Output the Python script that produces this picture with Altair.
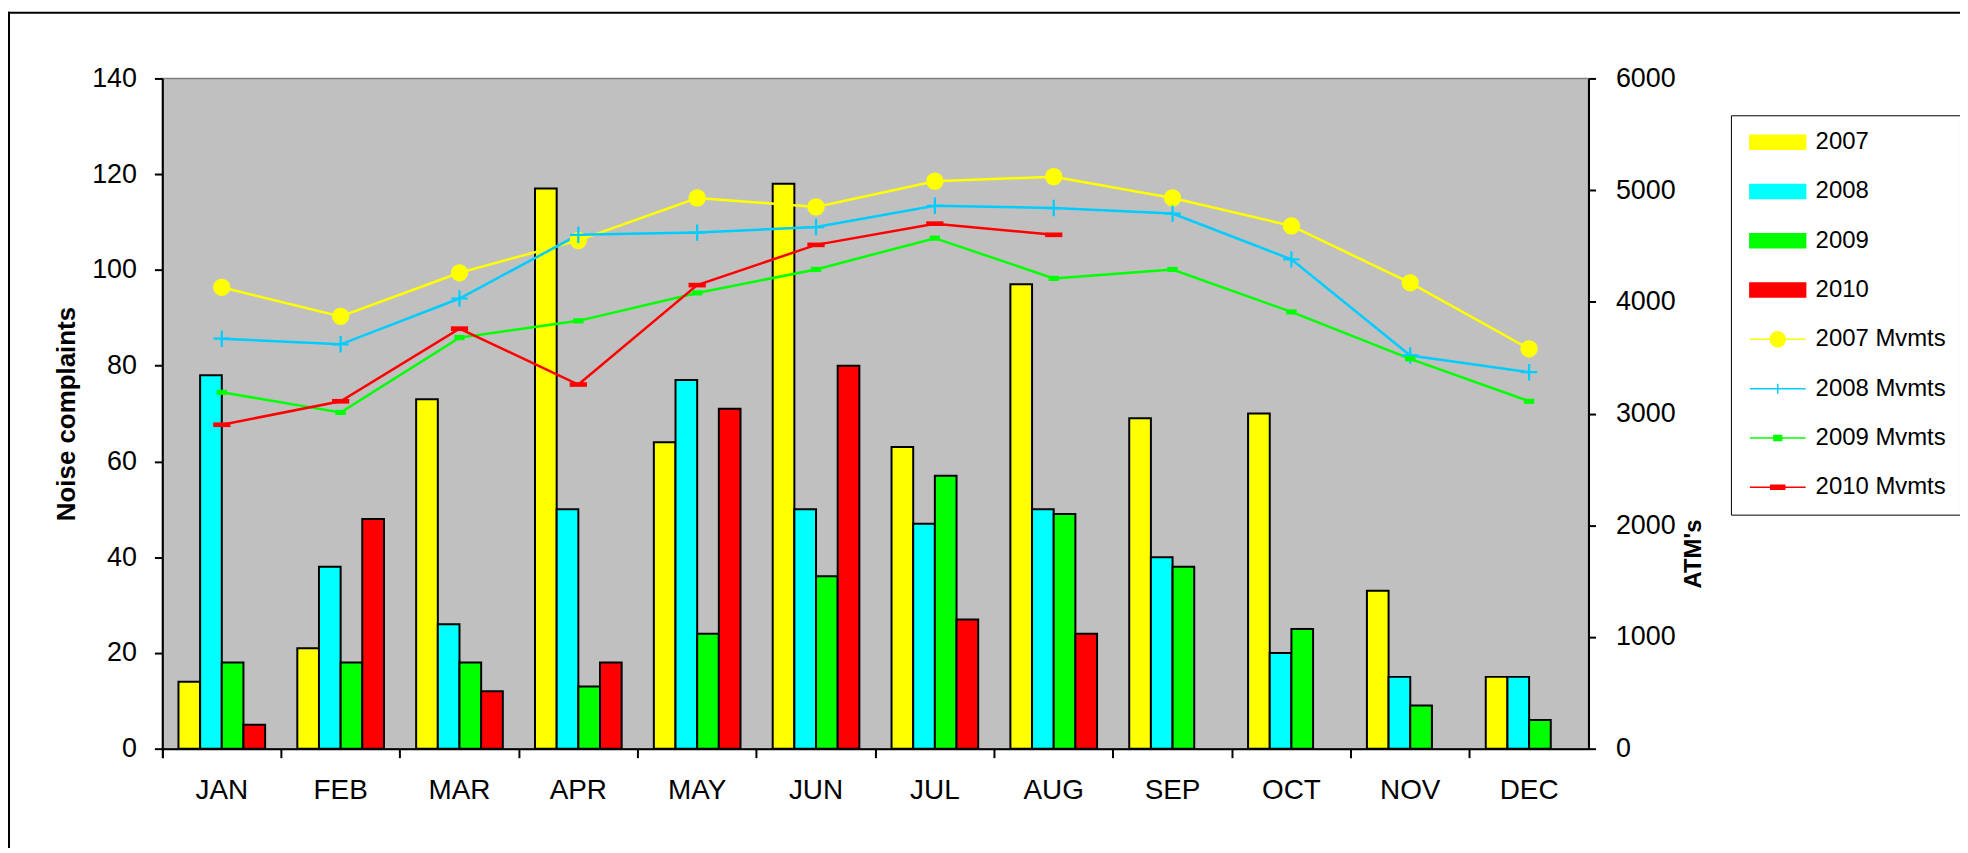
import altair as alt
import pandas as pd

FONT = "Liberation Sans"

months = ["JAN", "FEB", "MAR", "APR", "MAY", "JUN", "JUL", "AUG", "SEP", "OCT", "NOV", "DEC"]

bar_series = ["2007", "2008", "2009", "2010"]
complaints_2007 = [14, 21, 73, 117, 64, 118, 63, 97, 69, 70, 33, 15]
complaints_2008 = [78, 38, 26, 50, 77, 50, 47, 50, 40, 20, 15, 15]
complaints_2009 = [18, 18, 18, 13, 24, 36, 57, 49, 38, 25, 9, 6]
complaints_2010 = [5, 48, 12, 18, 71, 80, 27, 24]

line_series = ["2007 Mvmts", "2008 Mvmts", "2009 Mvmts", "2010 Mvmts"]
mvmts_2007 = [4130, 3870, 4260, 4550, 4930, 4850, 5080, 5120, 4930, 4680, 4170, 3580]
mvmts_2008 = [3670, 3620, 4030, 4600, 4620, 4670, 4860, 4840, 4790, 4380, 3520, 3370]
mvmts_2009 = [3190, 3010, 3680, 3830, 4080, 4290, 4570, 4210, 4290, 3910, 3490, 3110]
mvmts_2010 = [2900, 3110, 3760, 3260, 4150, 4510, 4700, 4600]

bar_colors = ["#FFFF00", "#00FFFF", "#00FF00", "#FF0000"]
line_colors = ["#FFFF00", "#00CCFF", "#00FF00", "#FF0000"]

# marker shapes (unit box -1..1)
marker_paths = [
    "M-1,0A1,1 0 1,0 1,0A1,1 0 1,0 -1,0Z",
    "M-0.95,-0.13H0.95V0.13H-0.95ZM-0.13,-0.95H0.13V0.95H-0.13Z",
    "M-0.6,-0.3H0.6V0.3H-0.6Z",
    "M-1,-0.27H1V0.27H-1Z",
]
# legend symbol shapes
legend_paths = [
    "M-1,-0.25H1V0.25H-1Z",
    "M-1,-0.25H1V0.25H-1Z",
    "M-1,-0.25H1V0.25H-1Z",
    "M-1,-0.25H1V0.25H-1Z",
    "M-1,0H1M-0.27,0A0.27,0.27 0 1,0 0.27,0A0.27,0.27 0 1,0 -0.27,0Z",
    "M-1,0H1M0,-0.18V0.18",
    "M-1,0H1M-0.14,-0.09H0.14V0.09H-0.14Z",
    "M-1,0H1M-0.25,-0.07H0.25V0.07H-0.25Z",
]

all_series = bar_series + line_series
all_colors = bar_colors + line_colors

bar_rows = []
for s, vals in zip(bar_series, [complaints_2007, complaints_2008, complaints_2009, complaints_2010]):
    for i, (m, v) in enumerate(zip(months, vals)):
        bar_rows.append({"month": m, "series": s, "value": v, "idx": i})
bars_df = pd.DataFrame(bar_rows)

line_rows = []
for s, vals in zip(line_series, [mvmts_2007, mvmts_2008, mvmts_2009, mvmts_2010]):
    for i, (m, v) in enumerate(zip(months, vals)):
        line_rows.append({"month": m, "series": s, "value": v, "idx": i})
lines_df = pd.DataFrame(line_rows)

color_scale = alt.Scale(domain=all_series, range=all_colors)

shape_expr = "".join(
    f"datum.value === '{s}' ? '{p}' : " for s, p in zip(all_series, legend_paths)
) + "'square'"
line_list = "[" + ",".join(f"'{s}'" for s in line_series) + "]"
stroke_expr = f"indexof({line_list}, datum.value) >= 0 ? scale('color', datum.value) : 'black'"

legend = alt.Legend(
    title=None,
    orient="none",
    legendX=1575,
    legendY=37,
    symbolSize=3136,
    symbolType=alt.ExprRef(shape_expr),
    symbolStrokeColor=alt.ExprRef(stroke_expr),
    symbolOffset=4,
    labelOffset=9,
    labelFont=FONT,
    labelFontSize=24,
    labelColor="black",
    labelLimit=400,
    clipHeight=26,
    rowPadding=23.5,
    padding=14,
    strokeColor="black",
    fillColor="white",
)

x_axis = alt.Axis(
    title=None, labelAngle=0, labelFontSize=28, labelPadding=19, tickSize=9,
    tickWidth=2, domainWidth=2, bandPosition=0, tickExtra=True,
    labelFont=FONT, labelColor="black", tickColor="black", domainColor="black",
)
x_enc = alt.X("month:N", scale=alt.Scale(domain=months, paddingInner=0, paddingOuter=0), axis=x_axis)

left_axis = alt.Axis(
    title="Noise complaints", orient="left", values=list(range(0, 141, 20)),
    labelFontSize=27, labelPadding=18, tickSize=8, tickWidth=2, domainWidth=2,
    grid=False, titleFontSize=26, titleFontWeight="bold", titleAngle=270,
    titleX=-96, titleBaseline="middle", labelFont=FONT, titleFont=FONT,
    labelColor="black", titleColor="black", tickColor="black", domainColor="black",
)
right_axis = alt.Axis(
    title="ATM's", orient="right", values=list(range(0, 6001, 1000)), format="d",
    labelFontSize=27, labelPadding=20, tickSize=7, tickWidth=2, domainWidth=2,
    grid=False, titleFontSize=24, titleFontWeight="bold", titleAngle=270,
    titleX=105, titleY=477, titleBaseline="middle", labelFont=FONT, titleFont=FONT,
    labelColor="black", titleColor="black", tickColor="black", domainColor="black",
)

bars = alt.Chart(bars_df).mark_bar(stroke="black", strokeWidth=2).encode(
    x=x_enc,
    xOffset=alt.XOffset("series:N", scale=alt.Scale(domain=bar_series, paddingInner=0, paddingOuter=0.743)),
    y=alt.Y("value:Q", scale=alt.Scale(domain=[0, 140], nice=False), axis=left_axis),
    color=alt.Color("series:N", scale=color_scale, legend=legend),
)

lines = alt.Chart(lines_df).mark_line(strokeWidth=2.5).encode(
    x=x_enc,
    y=alt.Y("value:Q", scale=alt.Scale(domain=[0, 6000], nice=False), axis=right_axis),
    color=alt.Color("series:N", scale=color_scale, legend=None),
    order=alt.Order("idx:Q"),
)

points = alt.Chart(lines_df).mark_point(filled=True, opacity=1, size=300).encode(
    x=x_enc,
    y=alt.Y("value:Q", scale=alt.Scale(domain=[0, 6000], nice=False), axis=None),
    color=alt.Color("series:N", scale=color_scale, legend=None),
    shape=alt.Shape("series:N", scale=alt.Scale(domain=line_series, range=marker_paths), legend=None),
)

# outer chart-area frame (top and left edges, as in the reference)
frame_df = pd.DataFrame({"k": [0]})
frame_top = alt.Chart(frame_df).mark_rule(color="black", strokeWidth=2).encode(
    x=alt.value(-155), x2=alt.value(1805), y=alt.value(-66)
)
frame_left = alt.Chart(frame_df).mark_rule(color="black", strokeWidth=2).encode(
    x=alt.value(-154), y=alt.value(-67), y2=alt.value(776)
)

chart = (
    alt.layer(bars, lines, points, frame_top, frame_left)
    .resolve_scale(y="independent")
    .properties(
        width=1432,
        height=673,
        padding={"left": 155, "top": 69, "right": 373, "bottom": 98},
        autosize=alt.AutoSizeParams(type="none"),
        background="white",
    )
    .configure(font=FONT)
    .configure_view(fill="#C0C0C0", stroke="#808080", strokeWidth=1.5)
)

chart.save("out.html", embed_options={"renderer": "svg", "actions": False})
